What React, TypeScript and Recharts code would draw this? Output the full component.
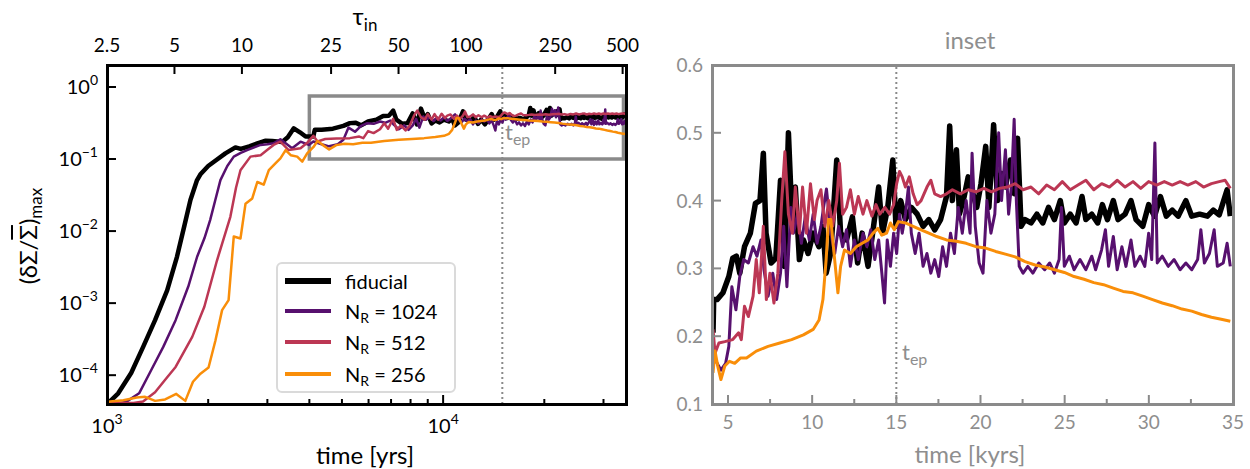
import React from "react";
import { LineChart, Line, XAxis, YAxis, ReferenceLine, ReferenceArea } from "recharts";

const C_FID = "#000000";
const C_1024 = "#57106e";
const C_512 = "#bc3754";
const C_256 = "#f98e09";
const GREY = "#8a8a8a";
const TXT_GREY = "#8e8e8e";

// early growth, time in yrs (left panel only)
const FID_EARLY: [number, number][] = [
  [1000, 4.2e-5], [1030, 4.5e-5], [1080, 5.6e-5], [1180, 1.07e-4], [1280, 2.45e-4], [1390, 5.8e-4],
  [1510, 1.5e-3], [1615, 4.4e-3], [1700, 0.012], [1771, 0.027], [1850, 0.05], [1900, 0.062],
  [2000, 0.08], [2115, 0.097], [2250, 0.12], [2410, 0.145], [2500, 0.138], [2650, 0.15],
  [2800, 0.165], [2966, 0.18], [3100, 0.178], [3320, 0.172], [3450, 0.2], [3595, 0.267],
  [3750, 0.235], [3899, 0.205],
];
const R1024_EARLY: [number, number][] = [
  [1000, 4.1e-5], [1100, 4.1e-5], [1143, 4.3e-5], [1246, 5.6e-5], [1353, 1.17e-4], [1469, 2.45e-4],
  [1600, 5.8e-4], [1745, 1.7e-3], [1854, 4.4e-3], [1950, 8e-3], [2027, 0.0142], [2100, 0.027],
  [2175, 0.051], [2280, 0.08], [2383, 0.108], [2500, 0.122], [2612, 0.133], [2864, 0.157],
  [3000, 0.16], [3130, 0.165], [3280, 0.188], [3555, 0.141], [3765, 0.174], [3985, 0.157],
];
const R512_EARLY: [number, number][] = [
  [1000, 4.1e-5], [1200, 4.1e-5], [1280, 4.3e-5], [1390, 5.8e-5], [1500, 9e-5], [1600, 1.3e-4],
  [1793, 3.4e-4], [1948, 8.9e-4], [2124, 3.9e-3], [2328, 0.0158], [2420, 0.04], [2495, 0.07],
  [2672, 0.108], [2864, 0.113], [2995, 0.133], [3130, 0.157], [3280, 0.174], [3470, 0.133],
  [3765, 0.141], [3950, 0.17],
];
const R256_EARLY: [number, number][] = [
  [1000, 4.2e-5], [1021, 4.3e-5], [1119, 4.5e-5], [1226, 4.9e-5], [1298, 5e-5], [1390, 4.4e-5],
  [1489, 4.6e-5], [1607, 5.5e-5], [1710, 4.4e-5], [1802, 8.1e-5], [1897, 1.05e-4], [2005, 1.28e-4],
  [2101, 3e-4], [2200, 8e-4], [2300, 1.1e-3], [2383, 8.4e-3], [2495, 7.9e-3], [2583, 0.024],
  [2705, 0.0284], [2800, 0.048], [2925, 0.044], [3030, 0.07], [3170, 0.087], [3280, 0.102],
  [3400, 0.133], [3520, 0.113], [3680, 0.108], [3810, 0.092], [3940, 0.12],
];

// saturated phase, time in kyrs (inset and left panel)
const FID_LATE: [number, number][] = [
  [4.11, 0.205], [4.15, 0.254], [4.35, 0.254], [4.7, 0.264], [5.05, 0.288], [5.28, 0.315], [5.5, 0.318],
  [5.7, 0.293], [5.98, 0.332], [6.33, 0.352], [6.63, 0.396], [6.9, 0.4], [7.1, 0.47], [7.26, 0.352],
  [7.56, 0.308], [7.84, 0.315], [8.12, 0.43], [8.36, 0.303], [8.59, 0.5], [8.82, 0.362], [9.0, 0.42],
  [9.24, 0.313], [9.48, 0.342], [9.76, 0.322], [10.06, 0.352], [10.4, 0.332], [10.64, 0.362],
  [10.83, 0.293], [11.1, 0.322], [11.46, 0.46], [11.69, 0.352], [12.04, 0.342], [12.39, 0.376],
  [12.7, 0.308], [12.97, 0.352], [13.32, 0.303], [13.62, 0.357], [13.95, 0.42], [14.18, 0.352],
  [14.49, 0.39], [14.79, 0.46], [14.98, 0.362], [15.26, 0.4], [15.54, 0.372], [15.89, 0.39],
  [16.24, 0.38], [16.59, 0.362], [16.93, 0.372], [17.28, 0.357], [17.63, 0.372], [17.98, 0.406],
  [18.17, 0.51], [18.33, 0.4], [18.57, 0.475], [18.75, 0.38], [19.03, 0.406], [19.27, 0.435],
  [19.55, 0.41], [19.78, 0.39], [20.03, 0.425], [20.31, 0.48], [20.5, 0.39], [20.78, 0.512],
  [21.01, 0.4], [21.25, 0.44], [21.48, 0.42], [21.78, 0.46], [22.02, 0.41], [22.2, 0.492],
  [22.41, 0.362], [22.65, 0.372], [23.0, 0.367], [23.35, 0.38], [23.7, 0.367], [24.04, 0.39],
  [24.39, 0.372], [24.74, 0.4], [24.98, 0.367], [25.33, 0.38], [25.68, 0.367], [26.03, 0.406],
  [26.26, 0.372], [26.61, 0.38], [26.96, 0.367], [27.24, 0.394], [27.54, 0.372], [27.89, 0.4],
  [28.17, 0.372], [28.59, 0.38], [28.94, 0.4], [29.24, 0.372], [29.64, 0.362], [29.99, 0.394],
  [30.34, 0.377], [30.69, 0.406], [31.04, 0.377], [31.39, 0.386], [31.74, 0.377], [32.2, 0.4],
  [32.55, 0.377], [33.02, 0.38], [33.48, 0.377], [33.83, 0.386], [34.18, 0.379], [34.65, 0.416],
  [34.84, 0.377],
];
const R512_LATE: [number, number][] = [
  [4.11, 0.21], [4.23, 0.175], [4.46, 0.19], [4.81, 0.192], [5.28, 0.195], [5.63, 0.205], [5.79, 0.195],
  [5.98, 0.244], [6.21, 0.229], [6.49, 0.259], [6.68, 0.313], [6.86, 0.264], [7.1, 0.362], [7.28, 0.254],
  [7.49, 0.293], [7.73, 0.249], [7.96, 0.293], [8.19, 0.4], [8.38, 0.472], [8.59, 0.38], [8.82, 0.352],
  [9.0, 0.42], [9.24, 0.352], [9.43, 0.42], [9.66, 0.352], [9.9, 0.425], [10.13, 0.372], [10.29, 0.4],
  [10.52, 0.416], [10.76, 0.362], [10.99, 0.4], [11.22, 0.362], [11.46, 0.4], [11.62, 0.455],
  [11.81, 0.38], [12.04, 0.39], [12.27, 0.416], [12.51, 0.38], [12.74, 0.406], [13.02, 0.38],
  [13.25, 0.4], [13.55, 0.377], [13.79, 0.394], [14.02, 0.38], [14.32, 0.39], [14.6, 0.38],
  [14.84, 0.394], [15.02, 0.425], [15.19, 0.443], [15.35, 0.435], [15.54, 0.42], [15.77, 0.435],
  [16.0, 0.41], [16.24, 0.394], [16.47, 0.4], [16.82, 0.42], [17.05, 0.43], [17.28, 0.41],
  [17.63, 0.406], [17.98, 0.41], [18.33, 0.416], [18.8, 0.41], [19.27, 0.416], [19.73, 0.413],
  [20.2, 0.418], [20.66, 0.413], [21.13, 0.418], [21.6, 0.42], [22.06, 0.425], [22.53, 0.416],
  [23.0, 0.42], [23.46, 0.41], [23.93, 0.423], [24.39, 0.416], [24.86, 0.428], [25.33, 0.416],
  [25.79, 0.423], [26.26, 0.43], [26.73, 0.416], [27.2, 0.425], [27.66, 0.42], [28.13, 0.43],
  [28.59, 0.42], [29.06, 0.428], [29.52, 0.418], [29.99, 0.428], [30.46, 0.423], [30.92, 0.428],
  [31.39, 0.423], [31.86, 0.428], [32.32, 0.423], [32.79, 0.428], [33.25, 0.42], [33.72, 0.425],
  [34.18, 0.428], [34.53, 0.43], [34.84, 0.418],
];
const R1024_LATE: [number, number][] = [
  [4.11, 0.175], [4.35, 0.16], [4.58, 0.15], [4.86, 0.16], [5.05, 0.185], [5.23, 0.273], [5.47, 0.239],
  [5.7, 0.288], [5.93, 0.313], [6.21, 0.308], [6.49, 0.332], [6.72, 0.318], [6.96, 0.342], [7.14, 0.298],
  [7.38, 0.259], [7.66, 0.293], [7.89, 0.254], [8.12, 0.293], [8.31, 0.362], [8.5, 0.273], [8.73, 0.39],
  [8.89, 0.352], [9.13, 0.38], [9.36, 0.337], [9.59, 0.376], [9.83, 0.342], [10.06, 0.38], [10.29, 0.337],
  [10.52, 0.362], [10.7, 0.394], [10.85, 0.417], [11.11, 0.352], [11.34, 0.322], [11.57, 0.362],
  [11.81, 0.332], [12.04, 0.357], [12.27, 0.303], [12.51, 0.342], [12.74, 0.313], [13.02, 0.352],
  [13.25, 0.332], [13.48, 0.357], [13.72, 0.313], [13.95, 0.342], [14.14, 0.293], [14.3, 0.249],
  [14.46, 0.342], [14.65, 0.303], [14.84, 0.352], [15.02, 0.322], [15.19, 0.38], [15.35, 0.352],
  [15.54, 0.38], [15.72, 0.42], [15.89, 0.352], [16.12, 0.322], [16.35, 0.352], [16.59, 0.303],
  [16.82, 0.322], [17.05, 0.293], [17.28, 0.313], [17.52, 0.288], [17.75, 0.332], [17.98, 0.303],
  [18.22, 0.352], [18.45, 0.322], [18.68, 0.39], [18.92, 0.352], [19.15, 0.4], [19.38, 0.352],
  [19.5, 0.47], [19.69, 0.362], [19.92, 0.308], [20.15, 0.293], [20.38, 0.4], [20.62, 0.352],
  [20.85, 0.38], [21.08, 0.5], [21.25, 0.4], [21.48, 0.475], [21.67, 0.38], [21.83, 0.42], [22.0, 0.52],
  [22.13, 0.4], [22.3, 0.303], [22.53, 0.293], [22.81, 0.303], [23.11, 0.293], [23.46, 0.308],
  [23.81, 0.298], [24.11, 0.308], [24.39, 0.293], [24.67, 0.313], [24.81, 0.39], [24.98, 0.303],
  [25.28, 0.318], [25.56, 0.298], [25.91, 0.313], [26.26, 0.298], [26.61, 0.318], [26.84, 0.298],
  [27.19, 0.327], [27.42, 0.357], [27.61, 0.303], [27.89, 0.347], [28.12, 0.298], [28.4, 0.332],
  [28.64, 0.303], [28.94, 0.342], [29.17, 0.303], [29.48, 0.318], [29.76, 0.303], [29.99, 0.352],
  [30.17, 0.313], [30.36, 0.485], [30.5, 0.308], [30.8, 0.318], [31.15, 0.303], [31.5, 0.313],
  [31.86, 0.298], [32.2, 0.308], [32.55, 0.298], [32.9, 0.313], [33.09, 0.357], [33.3, 0.308],
  [33.6, 0.322], [33.88, 0.357], [34.07, 0.303], [34.42, 0.308], [34.65, 0.337], [34.84, 0.303],
];
const R256_LATE: [number, number][] = [
  [4.11, 0.146], [4.23, 0.178], [4.39, 0.156], [4.58, 0.136], [4.81, 0.156], [5.09, 0.163], [5.4, 0.16],
  [5.75, 0.168], [6.1, 0.168], [6.68, 0.178], [7.38, 0.185], [8.08, 0.19], [8.78, 0.195], [9.48, 0.202],
  [10.06, 0.21], [10.41, 0.224], [10.64, 0.254], [10.83, 0.313], [10.97, 0.372], [11.11, 0.372],
  [11.3, 0.322], [11.53, 0.264], [11.69, 0.303], [11.92, 0.327], [12.27, 0.322], [12.62, 0.332],
  [12.97, 0.337], [13.32, 0.342], [13.62, 0.352], [13.9, 0.359], [14.14, 0.349], [14.42, 0.352],
  [14.65, 0.367], [14.88, 0.357], [15.12, 0.369], [15.54, 0.367], [16.0, 0.362], [16.47, 0.357],
  [16.93, 0.352], [17.4, 0.347], [17.98, 0.342], [18.57, 0.34], [19.15, 0.337], [19.73, 0.332],
  [20.31, 0.33], [20.9, 0.325], [21.48, 0.321], [22.06, 0.317], [22.65, 0.31], [23.24, 0.305],
  [23.82, 0.302], [24.41, 0.298], [24.98, 0.294], [25.56, 0.288], [26.15, 0.284], [26.73, 0.279],
  [27.31, 0.276], [27.89, 0.271], [28.47, 0.266], [29.06, 0.264], [29.64, 0.259], [30.22, 0.254],
  [30.8, 0.249], [31.39, 0.245], [31.97, 0.24], [32.55, 0.237], [33.13, 0.232], [33.72, 0.228],
  [34.3, 0.225], [34.84, 0.222],
];

const TAU_TICKS = [2.5, 5, 10, 25, 50, 100, 250, 500];
const TIME_TICKS = [1000, 2000, 3000, 4000, 5000, 6000, 7000, 8000, 9000, 10000, 20000, 30000];
const Y_LOG_TICKS = [1e-4, 1e-3, 1e-2, 1e-1, 1];
const INSET_X_TICKS = [5, 7.5, 10, 12.5, 15, 17.5, 20, 22.5, 25, 27.5, 30, 32.5, 35];
const INSET_Y_TICKS = [0.1, 0.2, 0.3, 0.4, 0.5, 0.6];
const T_EP = 15; // kyrs

// tau_in = 2.5 (t / 1000 yr)^(3/2)
const tauToYrs = (tau: number) => 1000 * Math.pow(tau / 2.5, 2 / 3);
const yrsToTau = (t: number) => Number((2.5 * Math.pow(t / 1000, 1.5)).toPrecision(3));
const TOP_TICKS = TAU_TICKS.map(tauToYrs);

const early = (a: [number, number][]) => a.map(([t, v]) => ({ t, v }));
const late = (a: [number, number][], f = 1) => a.map(([t, v]) => ({ t: t * f, v }));

const LEFT = [
  { key: "fid", color: C_FID, w: 4.5, data: [...early(FID_EARLY), ...late(FID_LATE, 1000)] },
  { key: "r1024", color: C_1024, w: 2.5, data: [...early(R1024_EARLY), ...late(R1024_LATE, 1000)] },
  { key: "r512", color: C_512, w: 2.5, data: [...early(R512_EARLY), ...late(R512_LATE, 1000)] },
  { key: "r256", color: C_256, w: 2.5, data: [...early(R256_EARLY), ...late(R256_LATE, 1000)] },
];
const RIGHT = [
  { key: "fid", color: C_FID, w: 5.5, data: late(FID_LATE) },
  { key: "r1024", color: C_1024, w: 3, data: late(R1024_LATE) },
  { key: "r512", color: C_512, w: 3, data: late(R512_LATE) },
  { key: "r256", color: C_256, w: 3, data: late(R256_LATE) },
];

const sup = (e: number) => (e < 0 ? `\u2212${-e}` : `${e}`);

const BottomLogTick = ({ x, y, payload }: any) => {
  const v = payload.value;
  const major = v === 1000 || v === 10000;
  return (
    <g>
      <line x1={x} x2={x} y1={y} y2={y - (major ? 9 : 5)} stroke="#000" strokeWidth={2} />
      {major && (
        <text x={x} y={y + 29} textAnchor="middle" fontSize={20} fill="#000">
          10<tspan dy={-9} fontSize={14}>{sup(Math.round(Math.log10(v)))}</tspan>
        </text>
      )}
    </g>
  );
};

const TopTauTick = ({ x, y, payload }: any) => (
  <g>
    <line x1={x} x2={x} y1={y} y2={y + 9} stroke="#000" strokeWidth={2} />
    <text x={x} y={y - 13} textAnchor="middle" fontSize={19} fill="#000">
      {yrsToTau(payload.value)}
    </text>
  </g>
);

const LeftLogTick = ({ x, y, payload }: any) => (
  <g>
    <line x1={x} x2={x + 9} y1={y} y2={y} stroke="#000" strokeWidth={2} />
    <text x={x - 9} y={y + 7} textAnchor="end" fontSize={20} fill="#000">
      10<tspan dy={-9} fontSize={14}>{sup(Math.round(Math.log10(payload.value)))}</tspan>
    </text>
  </g>
);

const InsetXTick = ({ x, y, payload }: any) => {
  const major = payload.value % 5 === 0;
  return (
    <g>
      <line x1={x} x2={x} y1={y} y2={y - (major ? 9 : 5)} stroke={GREY} strokeWidth={2} />
      {major && (
        <text x={x} y={y + 25} textAnchor="middle" fontSize={19} fill={TXT_GREY}>
          {payload.value}
        </text>
      )}
    </g>
  );
};

const InsetYTick = ({ x, y, payload }: any) => (
  <g>
    <line x1={x} x2={x + 9} y1={y} y2={y} stroke={GREY} strokeWidth={2} />
    <text x={x - 9} y={y + 7} textAnchor="end" fontSize={19} fill={TXT_GREY}>
      {payload.value.toFixed(1)}
    </text>
  </g>
);

const abs = (s: React.CSSProperties): React.CSSProperties => ({ position: "absolute", ...s });

const LEGEND = [
  { label: "fiducial", color: C_FID, w: 6, nr: null },
  { label: "1024", color: C_1024, w: 3.5, nr: true },
  { label: "512", color: C_512, w: 3.5, nr: true },
  { label: "256", color: C_256, w: 3.5, nr: true },
];
const LEGEND_ROWS = [17, 47, 78, 110];

export default function App() {
  return (
    <div style={abs({ left: 0, top: 0, width: 1250, height: 469, background: "#fff", fontFamily: "Lato, 'DejaVu Sans', sans-serif", overflow: "hidden" })}>
      {/* left panel */}
      <div style={abs({ left: 0, top: 0 })}>
        <LineChart width={640} height={469} margin={{ top: 35, right: 14, bottom: 35, left: 47 }}>
          <XAxis
            xAxisId="b"
            type="number"
            dataKey="t"
            scale="log"
            domain={[1000, 35000]}
            allowDataOverflow
            ticks={TIME_TICKS}
            interval={0}
            height={30}
            axisLine={false}
            tickLine={false}
            tickSize={0}
            tickMargin={0}
            tick={BottomLogTick}
          />
          <XAxis
            xAxisId="top"
            orientation="top"
            type="number"
            dataKey="t"
            scale="log"
            domain={[1000, 35000]}
            allowDataOverflow
            ticks={TOP_TICKS}
            interval={0}
            height={30}
            axisLine={false}
            tickLine={false}
            tickSize={0}
            tickMargin={0}
            tick={TopTauTick}
          />
          <YAxis
            type="number"
            scale="log"
            domain={[Math.pow(10, -4.4), Math.pow(10, 0.305)]}
            allowDataOverflow
            ticks={Y_LOG_TICKS}
            interval={0}
            width={60}
            axisLine={false}
            tickLine={false}
            tickSize={0}
            tickMargin={0}
            tick={LeftLogTick}
          />
          <ReferenceLine xAxisId="b" x={T_EP * 1000} stroke={GREY} strokeWidth={2} strokeDasharray="2 3" />
          {LEFT.map((s) => (
            <Line
              key={s.key}
              xAxisId="b"
              data={s.data}
              dataKey="v"
              type="linear"
              stroke={s.color}
              strokeWidth={s.w}
              dot={false}
              strokeLinejoin="round"
              isAnimationActive={false}
            />
          ))}
          <ReferenceArea xAxisId="b" x1={4000} x2={34400} y1={0.1} y2={0.75} fill="none" stroke={GREY} strokeWidth={3.5} />
        </LineChart>
      </div>
      <div style={abs({ left: 105.5, top: 63.5, width: 522, height: 342, border: "3px solid #000", boxSizing: "border-box", pointerEvents: "none" })} />
      <div style={abs({ left: 505, top: 120, fontSize: 22, color: TXT_GREY, lineHeight: "24px" })}>
        t<sub style={{ fontSize: 16, verticalAlign: -5 }}>ep</sub>
      </div>
      <div style={abs({ left: 265, top: 2, width: 200, textAlign: "center", fontSize: 24, lineHeight: "28px", color: "#000" })}>
        τ<sub style={{ fontSize: 17, verticalAlign: -6 }}>in</sub>
      </div>
      <div style={abs({ left: 265, top: 441, width: 200, textAlign: "center", fontSize: 24, lineHeight: "28px", color: "#000" })}>
        time [yrs]
      </div>
      <div
        style={abs({
          left: 28 - 100,
          top: 236 - 15,
          width: 200,
          height: 30,
          textAlign: "center",
          fontSize: 24,
          lineHeight: "30px",
          transform: "rotate(-90deg)",
          color: "#000",
          whiteSpace: "nowrap",
        })}
      >
        (δΣ/<span style={{ textDecoration: "overline" }}>Σ</span>)<sub style={{ fontSize: 17, verticalAlign: -5 }}>max</sub>
      </div>
      {/* legend */}
      <div style={abs({ left: 276, top: 262, width: 180, height: 131, border: "2px solid #dadada", borderRadius: 6, background: "rgba(255,255,255,0.85)", boxSizing: "border-box" })}>
        {LEGEND.map((l, i) => (
          <div key={l.label} style={abs({ left: 0, top: LEGEND_ROWS[i] - 14, height: 28, width: 178 })}>
            <div style={abs({ left: 7, top: 14 - l.w / 2, width: 46, height: l.w, background: l.color })} />
            <div style={abs({ left: 67, top: 0, fontSize: 20, lineHeight: "28px", color: "#000", whiteSpace: "nowrap" })}>
              {l.nr ? (
                <>
                  N<sub style={{ fontSize: 14, verticalAlign: -4 }}>R</sub> = {l.label}
                </>
              ) : (
                l.label
              )}
            </div>
          </div>
        ))}
      </div>

      {/* right panel: inset */}
      <div style={abs({ left: 640, top: 0 })}>
        <LineChart width={610} height={469} margin={{ top: 65, right: 17, bottom: 35, left: 12 }}>
          <XAxis
            type="number"
            dataKey="t"
            domain={[4.05, 35]}
            allowDataOverflow
            ticks={INSET_X_TICKS}
            interval={0}
            height={30}
            axisLine={false}
            tickLine={false}
            tickSize={0}
            tickMargin={0}
            tick={InsetXTick}
          />
          <YAxis
            type="number"
            domain={[0.1, 0.6]}
            allowDataOverflow
            ticks={INSET_Y_TICKS}
            interval={0}
            width={60}
            axisLine={false}
            tickLine={false}
            tickSize={0}
            tickMargin={0}
            tick={InsetYTick}
          />
          <ReferenceLine x={T_EP} stroke={GREY} strokeWidth={2} strokeDasharray="2 3" />
          {RIGHT.map((s) => (
            <Line
              key={s.key}
              data={s.data}
              dataKey="v"
              type="linear"
              stroke={s.color}
              strokeWidth={s.w}
              dot={false}
              strokeLinejoin="round"
              isAnimationActive={false}
            />
          ))}
        </LineChart>
      </div>
      <div style={abs({ left: 710.5, top: 63.5, width: 524, height: 342, border: `3px solid ${GREY}`, boxSizing: "border-box", pointerEvents: "none" })} />
      <div style={abs({ left: 870, top: 26, width: 200, textAlign: "center", fontSize: 24, lineHeight: "28px", color: TXT_GREY })}>inset</div>
      <div style={abs({ left: 870, top: 440, width: 200, textAlign: "center", fontSize: 24, lineHeight: "28px", color: TXT_GREY })}>
        time [kyrs]
      </div>
      <div style={abs({ left: 902, top: 340, fontSize: 22, color: TXT_GREY, lineHeight: "24px" })}>
        t<sub style={{ fontSize: 16, verticalAlign: -5 }}>ep</sub>
      </div>
    </div>
  );
}
